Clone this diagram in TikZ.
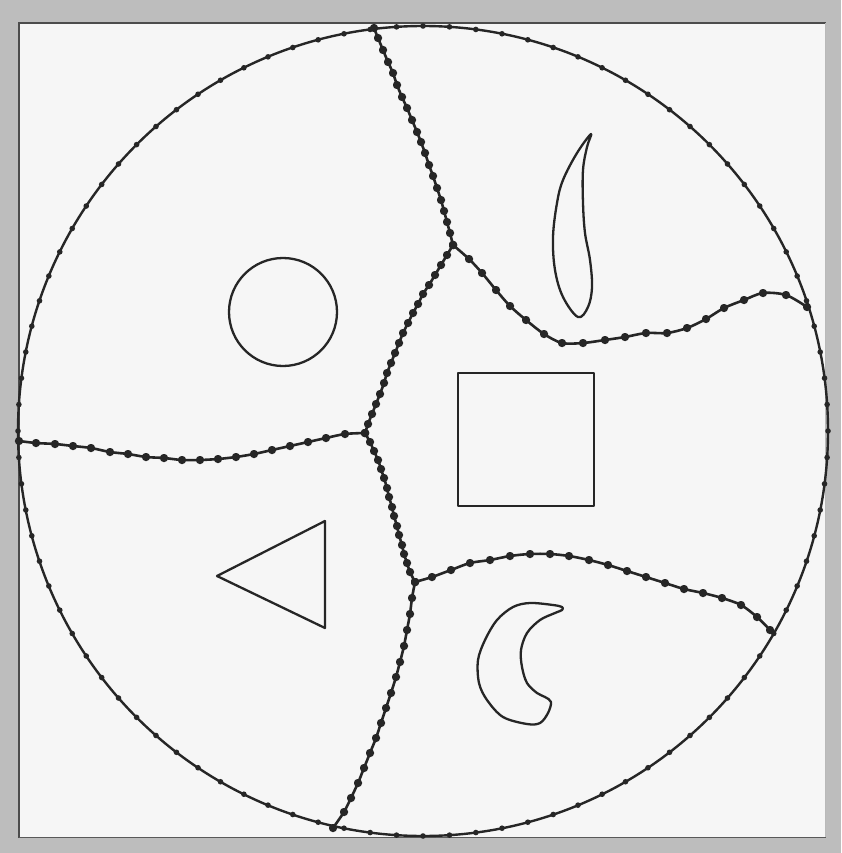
\documentclass[tikz,border=0pt]{standalone}
\definecolor{ink}{HTML}{262626}
\definecolor{paper}{HTML}{F6F6F6}
\definecolor{framegray}{HTML}{BDBDBD}
\begin{document}
\begin{tikzpicture}[x=1pt,y=-1pt,
  edge/.style={draw=ink, line width=2.6pt, line join=round, mark=*, mark size=2.8pt,
    mark options={fill=ink, draw=none}},
  outline/.style={draw=ink, line width=2.3pt, line join=round}]
\useasboundingbox (0,0) rectangle (841,853);
% frame
\fill[framegray] (0,0) rectangle (841,853);
\fill[paper] (18,22) rectangle (826,838);
\draw[gray!60!black, line width=1.6pt] (19,838) -- (19,23) -- (826,23);
\draw[gray!55, line width=1.2pt] (825.5,23) -- (825.5,838);
\draw[gray!70!black, line width=1.4pt] (19,837.5) -- (826,837.5);
% big circle with dots
\coordinate (O) at (423,431);
\draw[ink, line width=2.4pt] (O) circle (405);
\foreach \a in {0,3.75,...,356.25} \fill[ink] (O) ++(\a:405) circle (2.8pt);
% partition curves (dots at data points)
\draw[edge] plot[smooth, tension=0.4] coordinates {(374,28) (378,38) (383,50) (388,62) (393,73) (397,85) (402,97) (407,108) (412,120) (417,132) (421,142) (425,153) (429,165) (433,176) (437,188) (441,200) (444,211) (447,222) (450,233) (453,245)};
\draw[edge] plot[smooth, tension=0.5] coordinates {(453,245) (469,259) (482,273) (496,290) (510,306) (526,320) (544,334) (562,343) (583,343) (605,340) (625,337) (646,333) (667,333) (687,328) (706,319) (724,308) (744,300) (763,293) (786,295) (807,307)};
\draw[edge] plot[smooth, tension=0.4] coordinates {(453,245) (447,255) (441,265) (435,275) (429,285) (423,294) (418,304) (413,313) (408,323) (403,333) (399,343) (395,353) (391,363) (387,373) (384,383) (380,394) (376,404) (372,414) (368,424) (365,433)};
\draw[edge] plot[smooth, tension=0.5] coordinates {(19,441) (36,443) (55,444) (73,446) (91,448) (110,452) (128,454) (146,457) (164,458) (182,460) (200,460) (218,459) (236,457) (254,454) (272,450) (290,446) (308,442) (326,438) (345,434) (365,433)};
\draw[edge] plot[smooth, tension=0.4] coordinates {(365,433) (370,442) (374,451) (378,460) (381,469) (384,478) (387,488) (389,497) (392,507) (394,516) (397,526) (399,535) (402,545) (404,554) (407,563) (410,572) (415,582)};
\draw[edge] plot[smooth, tension=0.5] coordinates {(415,582) (432,577) (451,570) (470,563) (490,560) (510,556) (530,554) (550,554) (569,556) (589,560) (608,565) (627,571) (646,577) (665,583) (684,589) (703,593) (722,598) (741,605) (757,617) (770,630)};
\draw[edge] plot[smooth, tension=0.4] coordinates {(415,582) (412,598) (410,614) (407,630) (404,646) (400,662) (396,677) (391,693) (386,708) (381,723) (376,738) (370,753) (364,768) (358,783) (351,798) (344,812) (333,828)};
% shapes
\draw[outline] (283,312) circle (54);
\draw[outline] (458,373) rectangle (594,506);
\draw[outline] (217,576) -- (325,521) -- (325,628) -- cycle;
\draw[outline] plot[smooth cycle, tension=0.6] coordinates {(591,134) (577,153) (563,180) (557,203) (553,237) (555,270) (563,297) (578,317) (588,307) (592,287) (590,260) (585,233) (583,203) (583,170) (587,147)};
\draw[outline] plot[smooth cycle, tension=0.55] coordinates {(562,607) (553,605) (530,603) (513,607) (497,620) (485,640) (478,660) (479,683) (487,700) (503,717) (527,724) (540,723) (548,713) (551,702) (545,697) (537,693) (527,683) (522,667) (521,650) (527,633) (540,620) (555,613) (562,610)};
\end{tikzpicture}
\end{document}
